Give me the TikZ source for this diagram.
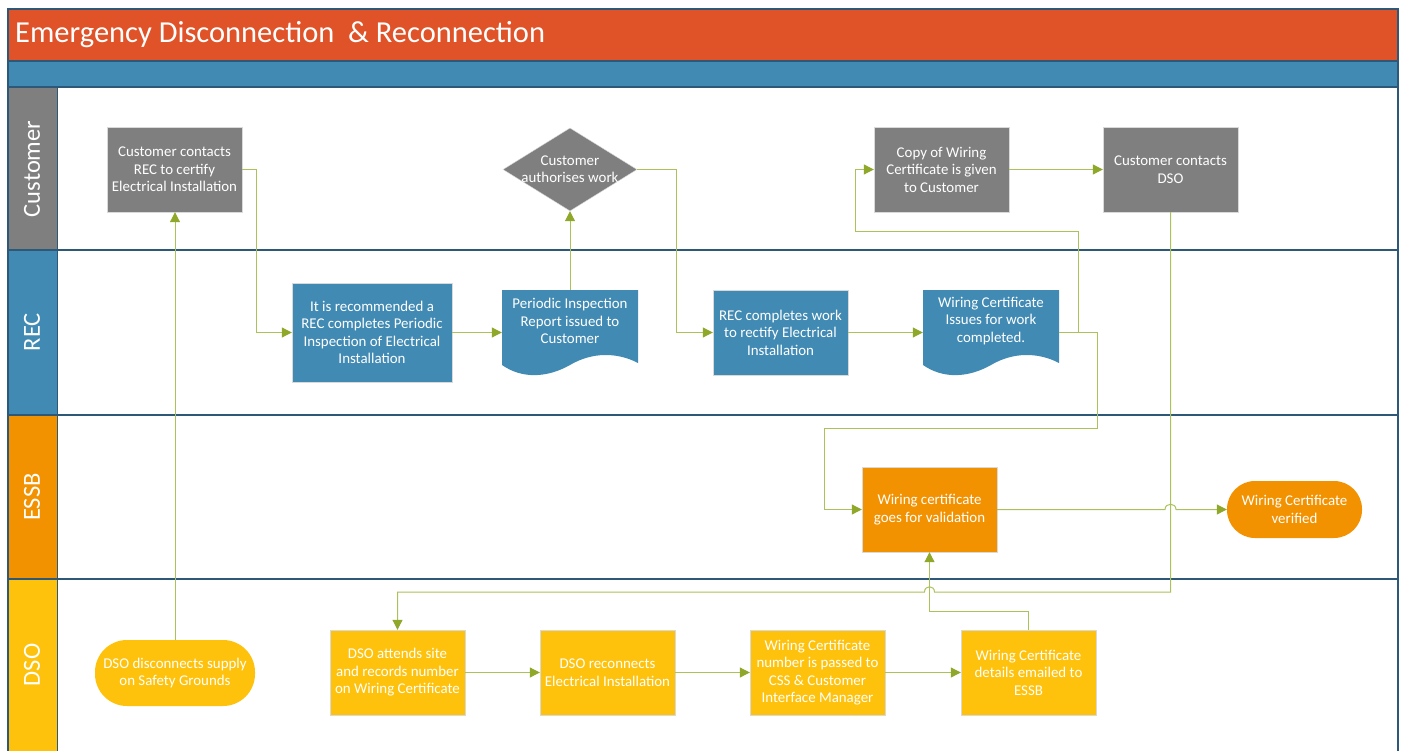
\documentclass[tikz,border=0pt]{standalone}
\usepackage{fontspec}
\setmainfont{Carlito}
\usetikzlibrary{arrows.meta,shapes.geometric,calc}
\definecolor{titlered}{HTML}{E05227}
\definecolor{topblue}{HTML}{418AB3}
\definecolor{framec}{HTML}{2E5878}
\definecolor{custgray}{HTML}{7F7F7F}
\definecolor{recblue}{HTML}{418AB3}
\definecolor{essborange}{HTML}{F39200}
\definecolor{dsoyellow}{HTML}{FEC20C}
\definecolor{linegreen}{HTML}{A9C25A}
\definecolor{arrowgreen}{HTML}{8FA82A}
\begin{document}
\begin{tikzpicture}[x=1pt,y=-1pt,
  txt/.style={text=white,align=center,inner sep=0pt,font=\fontsize{14.9}{17.5}\selectfont},
  boxbase/.style={txt,rectangle,minimum width=135pt,minimum height=85pt,draw=white!85!black,line width=0.4pt},
  graybox/.style={boxbase,fill=custgray},
  bluebox/.style={boxbase,fill=recblue},
  orangebox/.style={boxbase,fill=essborange},
  yellowbox/.style={boxbase,fill=dsoyellow},
  stadium/.style={txt,rectangle,rounded corners=28pt,minimum width=135pt,minimum height=57pt},
  lanelabel/.style={text=white,rotate=90,font=\fontsize{24.5}{26}\selectfont},
  conn/.style={draw=linegreen,line width=1pt,-{Triangle[length=10pt,width=10pt,color=arrowgreen]}},
  docpic/.pic={\fill[recblue] (0,0) -- (136,0) -- (136,73) .. controls (115,62) and (90,62) .. (68,75) .. controls (45,88) and (20,89) .. (0,75) -- cycle;}
]
\useasboundingbox (0,0) rectangle (1402,751);
\fill[white] (0,0) rectangle (1402,751);
% title and bars
\fill[titlered] (8,9) rectangle (1398,61);
\fill[topblue] (8,61) rectangle (1398,87);
\node[anchor=west,text=white,inner sep=0pt,font=\fontsize{30.5}{32}\selectfont] (title) at (15,35) {Emergency Disconnection\ \ \& Reconnection};
% lane headers
\fill[custgray] (8,87) rectangle (57,250);
\fill[recblue] (8,250) rectangle (57,415);
\fill[essborange] (8,415) rectangle (57,579);
\fill[dsoyellow] (8,579) rectangle (57,751);
\node[lanelabel] (lcust) at (32,169) {Customer};
\node[lanelabel] (lrec) at (32,332) {REC};
\node[lanelabel] (lessb) at (32,497) {ESSB};
\node[lanelabel] (ldso) at (32,665) {DSO};
% frame and lane lines
\draw[framec,line width=1.2pt] (8,751) -- (8,9) -- (1398,9) -- (1398,751);
\draw[framec,line width=1.2pt] (8,61) -- (1398,61);
\draw[framec,line width=1.2pt] (8,87) -- (1398,87);
\draw[framec,line width=1.2pt] (8,250) -- (1398,250);
\draw[framec,line width=1.2pt] (8,415) -- (1398,415);
\draw[framec,line width=1.2pt] (8,579) -- (1398,579);
\draw[framec,line width=0.8pt] (57,87) -- (57,751);
% Customer lane
\node[graybox] (c1) at (174.5,169.5) {Customer contacts\\REC to certify\\Electrical Installation};
\node[diamond,fill=custgray,draw=white!85!black,line width=0.4pt,minimum width=134pt,minimum height=83pt,inner sep=0pt] (c2) at (570,169.5) {};
\node[txt] (c2t) at (570,169) {Customer\\authorises work};
\node[graybox] (c3) at (941.5,169.5) {Copy of Wiring\\Certificate is given\\to Customer};
\node[graybox] (c4) at (1170.5,169.5) {Customer contacts\\DSO};
% REC lane
\node[bluebox,minimum width=160pt,minimum height=99pt] (r1) at (372,332.5) {It is recommended a\\REC completes Periodic\\Inspection of Electrical\\Installation};
\pic at (502,290) {docpic};
\node[inner sep=0pt,minimum width=136pt,minimum height=85pt] (r2) at (570,332.5) {};
\node[txt] (r2t) at (570,321) {Periodic Inspection\\Report issued to\\Customer};
\node[bluebox] (r3) at (780.5,332.5) {REC completes work\\to rectify Electrical\\Installation};
\pic at (923,290) {docpic};
\node[inner sep=0pt,minimum width=136pt,minimum height=85pt] (r4) at (991,332.5) {};
\node[txt] (r4t) at (991,321) {Wiring Certificate\\Issues for work\\completed.};
% ESSB lane
\node[orangebox] (e1) at (929.5,509.5) {Wiring certificate\\goes for validation};
\node[stadium,fill=essborange] (e2) at (1294.5,509.5) {Wiring Certificate\\verified};
% DSO lane
\node[stadium,fill=dsoyellow,minimum width=160pt,minimum height=66pt,rounded corners=32pt] (d1) at (175,673) {DSO disconnects supply\\on Safety Grounds};
\node[yellowbox] (d2) at (397.5,672.5) {DSO attends site\\and records number\\on Wiring Certificate};
\node[yellowbox] (d3) at (607.5,672.5) {DSO reconnects\\Electrical Installation};
\node[yellowbox] (d4) at (817.5,672.5) {Wiring Certificate\\number is passed to\\CSS \& Customer\\Interface Manager};
\node[yellowbox] (d5) at (1028.5,672.5) {Wiring Certificate\\details emailed to\\ESSB};
% routing coordinates
\coordinate (k1) at (1078,232);
\coordinate (k2) at (855,232);
\coordinate (k3) at (1097,428);
\coordinate (k4) at (824,428);
\coordinate (j1) at (1170.5,592);
\coordinate (j2) at (934.5,592);
\coordinate (j3) at (924.5,592);
\coordinate (j4) at (1165,509.5);
\coordinate (j5) at (1176,509.5);
% connectors
\draw[conn] (d1.north) -- (d1.north |- c1.south);
\draw[conn] (c1.east) -- ++(14,0) |- (r1.west);
\draw[conn] (r1.east) -- (r2.west);
\draw[conn] (r2.north) -- (c2.south);
\draw[conn] (c2.east) -- ++(39,0) |- (r3.west);
\draw[conn] (r3.east) -- (r4.west);
\draw[conn] (r4.east) -| (k1) -- (k2) |- (c3.west);
\draw[conn] (c3.east) -- (c4.west);
\draw[conn] (r4.east) -| (k3) -- (k4) |- (e1.west);
\draw[conn] (e1.east) -- (j4) .. controls ($(j4)+(0,-7)$) and ($(j5)+(0,-7)$) .. (j5) -- (e2.west);
\draw[conn] (c4.south) -- (j1) -- (j2) .. controls ($(j2)+(0,-7)$) and ($(j3)+(0,-7)$) .. (j3) -| (d2.north);
\draw[conn] (d2.east) -- (d3.west);
\draw[conn] (d3.east) -- (d4.west);
\draw[conn] (d4.east) -- (d5.west);
\draw[conn] (d5.north) -- ++(0,-18) -| (e1.south);
\end{tikzpicture}
\end{document}
